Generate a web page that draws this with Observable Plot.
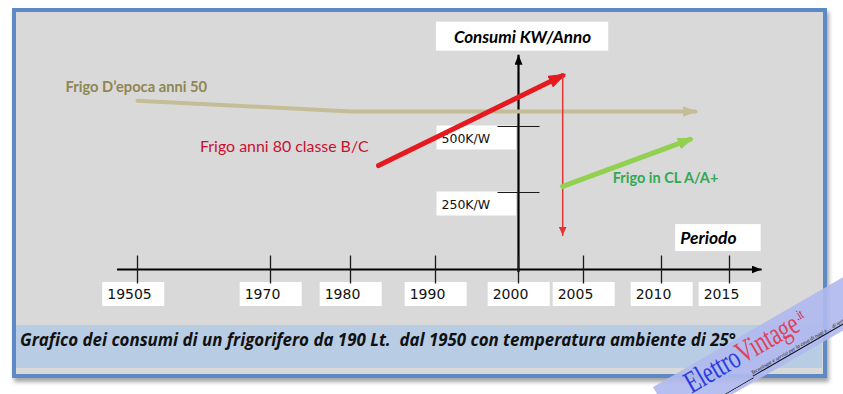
<!DOCTYPE html>
<html>
<head>
<meta charset="utf-8">
<script src="https://cdn.jsdelivr.net/npm/d3@7"></script>
<script src="https://cdn.jsdelivr.net/npm/@observablehq/plot@0.6"></script>
<style>
  body { margin: 0; background: #fff; }
  #wrap { position: relative; width: 843px; height: 394px; overflow: hidden; background: #fff; }
  #frame { position: absolute; left: 12px; top: 8px; width: 815px; height: 370px; box-sizing: border-box;
           border: 4px solid #5d89c4; background: #d9d9d9; box-shadow: 2px 4px 4px rgba(0,0,0,.35); }
  #band { position: absolute; left: 16px; top: 325px; width: 806px; height: 43px; background: #b8cce4; }
  #caption { position: absolute; left: 20px; top: 330px; font: italic bold 16.9px "Open Sans", sans-serif; color: #111; white-space: pre; line-height: 20px; }
  #chart { position: absolute; left: 0; top: 0; }
  #wm { position: absolute; left: 653px; top: 387px; width: 280px; height: 46px; transform-origin: 0 0;
        transform: rotate(-30deg); background: rgba(176,186,238,0.92); z-index: 5; }
  #wm .t { position: absolute; left: 30px; top: -5px; font: 31px "Liberation Serif", serif; white-space: nowrap; line-height: 31px;
           transform: scaleX(0.72); transform-origin: 0 0; letter-spacing: -0.3px; }
  #wm .b { color: #2a3be0; }
  #wm .r { color: #e0405a; }
  #wm .it { color: #c8203a; font-size: 14px; vertical-align: 10px; margin-left: 2px; }
  #wm .s { position: absolute; left: 92px; top: 34px; font: italic 5.3px "Liberation Serif", serif; color: #111;
           text-decoration: underline; white-space: nowrap; }
  #wm .sq { position: absolute; left: 36px; top: 36px; width: 55px; height: 6px; border-bottom: 1px solid #222;
            border-left: 1px solid #222; border-radius: 0 0 0 6px; }
</style>
</head>
<body>
<div id="wrap">
  <div id="frame"></div>
  <div id="band"></div>
  <div id="caption">Grafico dei consumi di un frigorifero da 190 Lt.  dal 1950 con temperatura ambiente di 25°</div>
  <div id="chart"></div>
  <div id="wm"><div class="t"><span class="b">Elettro</span><span class="r">Vintage</span><span class="it">.it</span></div><div class="sq"></div><div class="s">Tecnologie e servizi per la casa di oggi e.... di ieri</div></div>
</div>
<script>
// ---- tick data ----
const xTicks = [1950, 1970, 1980, 1990, 2000, 2005, 2010, 2015];
const xTickLabels = ["19505", "1970", "1980", "1990", "2000", "2005", "2010", "2015"];
const yTicks = [250, 500];
const yTickLabels = ["250K/W", "500K/W"];
const yAxisAt = 2000;
const axisXExtent = [1947, 2017.4];
const axisYExtent = [-10, 770];
const yTitle = "Consumi KW/Anno";
const xTitle = "Periodo";

// ---- series (years / consumption) ----
const seriesNames = ["Frigo D\u2019epoca anni 50", "Frigo anni 80 classe B/C", "Frigo in CL A/A+"];
const epocaYears = [1950, 1980, 2012.5];
const epocaValues = [598, 557, 557];
const anni80Years = [1983.3, 2003.4];
const anni80Values = [352, 693];
const dropYears = [2003.4, 2003.4];
const dropValues = [693, 110];
const classeAYears = [2003.4, 2012.1];
const classeAValues = [273, 451];

const vTick = { draw(ctx, size) { const h = Math.sqrt(size / Math.PI); ctx.moveTo(0, -h); ctx.lineTo(0, h); } };
const hTick = { draw(ctx, size) { const h = Math.sqrt(size / Math.PI); ctx.moveTo(-h, 0); ctx.lineTo(h, 0); } };

const labelFont = "Lato, 'Open Sans', sans-serif";

const chart = Plot.plot({
  width: 843,
  height: 394,
  margin: 0,
  style: { background: "transparent", overflow: "visible" },
  x: { type: "linear", domain: xTicks, range: [137, 270, 350, 435, 518, 583, 661, 729], axis: null },
  y: { type: "linear", domain: [0, 250, 500], range: [269, 192, 126], axis: null },
  marks: [
    Plot.text(yTicks, { x: () => yAxisAt, y: d => d, text: (d, i) => yTickLabels[i], textAnchor: "start",
      dx: -77, dy: 12, fontSize: 12.5, fontFamily: "DejaVu Sans", fill: "#111", ariaDescription: "ylabels" }),
    Plot.text(xTicks, { x: d => d, y: () => 0, text: (d, i) => xTickLabels[i], dx: -8, dy: 25,
      fontSize: 14, fontFamily: "DejaVu Sans", fill: "#111", ariaDescription: "xlabels" }),
    Plot.text([yTitle], { x: () => yAxisAt, y: () => axisYExtent[1], text: d => d, dx: 4, dy: -18,
      fontSize: 17, fontWeight: "bold", fontStyle: "italic", fontFamily: labelFont, fill: "#000", ariaDescription: "ytitle" }),
    Plot.text([xTitle], { x: () => axisXExtent[1], y: () => 0, text: d => d, textAnchor: "start", dx: -82, dy: -31,
      fontSize: 17.5, fontWeight: "bold", fontStyle: "italic", fontFamily: labelFont, fill: "#000", ariaDescription: "xtitle" }),
    Plot.ruleX([yAxisAt], { y1: axisYExtent[0], y2: axisYExtent[1], stroke: "#000", strokeWidth: 2.2, ariaDescription: "yaxis" }),
    Plot.ruleY([0], { x1: axisXExtent[0], x2: axisXExtent[1], stroke: "#000", strokeWidth: 2.2, ariaDescription: "xaxis" }),
    Plot.dot(xTicks, { x: d => d, y: () => 0, r: 14, symbol: vTick, fill: "none", stroke: "#1a1a1a", strokeWidth: 1.3 }),
    Plot.dot(yTicks, { x: () => yAxisAt, y: d => d, r: 21, symbol: hTick, fill: "none", stroke: "#1a1a1a", strokeWidth: 1.2 }),
    Plot.line(epocaYears, { x: d => d, y: (d, i) => epocaValues[i], stroke: "#c4bd97", strokeWidth: 4, ariaDescription: "s-epoca" }),
    Plot.line(anni80Years, { x: d => d, y: (d, i) => anni80Values[i], stroke: "#e5191e", strokeWidth: 5, ariaDescription: "s-anni80" }),
    Plot.line(dropYears, { x: d => d, y: (d, i) => dropValues[i], stroke: "#e23434", strokeWidth: 1.5, ariaDescription: "s-drop" }),
    Plot.line(classeAYears, { x: d => d, y: (d, i) => classeAValues[i], stroke: "#92d050", strokeWidth: 5, ariaDescription: "s-classeA" }),
    Plot.text([seriesNames[0]], { x: () => epocaYears[0], y: () => epocaValues[0], text: d => d, textAnchor: "start",
      dx: -72, dy: -13, fontSize: 14.7, fontWeight: "bold", fontFamily: labelFont, fill: "#8f8652" }),
    Plot.text([seriesNames[1]], { x: () => anni80Years[0], y: () => anni80Values[0], text: d => d, textAnchor: "end",
      dx: -10, dy: -19, fontSize: 15.9, fontFamily: labelFont, fill: "#c8102e" }),
    Plot.text([seriesNames[2]], { x: () => classeAYears[0], y: () => classeAValues[0], text: d => d, textAnchor: "start",
      dx: 50, dy: -8, fontSize: 14.5, fontWeight: "bold", fontFamily: labelFont, fill: "#33a852" })
  ]
});

document.getElementById("chart").appendChild(chart);

// ---- decorations: arrowheads and white label boxes ----
const ns = "http://www.w3.org/2000/svg";
const defs = document.createElementNS(ns, "defs");
chart.insertBefore(defs, chart.firstChild);
function marker(id, color, L, W, back) {
  const m = document.createElementNS(ns, "marker");
  m.setAttribute("id", id);
  m.setAttribute("viewBox", `0 0 ${L} ${W}`);
  m.setAttribute("markerWidth", L);
  m.setAttribute("markerHeight", W);
  m.setAttribute("markerUnits", "userSpaceOnUse");
  m.setAttribute("refX", L - back);
  m.setAttribute("refY", W / 2);
  m.setAttribute("orient", "auto");
  const p = document.createElementNS(ns, "path");
  p.setAttribute("d", `M0,0L${L},${W / 2}L0,${W}Z`);
  p.setAttribute("fill", color);
  m.appendChild(p);
  defs.appendChild(m);
}
marker("m-epoca", "#c4bd97", 15, 11, 2);
marker("m-anni80", "#e5191e", 18, 13, 4);
marker("m-drop", "#e23434", 9, 8, 0);
marker("m-classeA", "#92d050", 16, 12, 4);
marker("m-axis", "#000", 10, 8, 0);
const setMarker = (desc, id) => chart.querySelectorAll(`g[aria-description="${desc}"] path, g[aria-description="${desc}"] line`)
  .forEach(el => el.setAttribute("marker-end", `url(#${id})`));
setMarker("s-epoca", "m-epoca");
setMarker("s-anni80", "m-anni80");
setMarker("s-drop", "m-drop");
setMarker("s-classeA", "m-classeA");
setMarker("xaxis", "m-axis");
// y axis arrow must point upward
chart.querySelectorAll(`g[aria-description="yaxis"] line`).forEach(el => {
  const a = +el.getAttribute("y1"), b = +el.getAttribute("y2");
  if (a < b) { el.setAttribute("y1", b); el.setAttribute("y2", a); }
  el.setAttribute("marker-end", "url(#m-axis)");
});

const boxes = document.createElementNS(ns, "g");
chart.insertBefore(boxes, chart.querySelector("g"));
const svgRect = chart.getBoundingClientRect();
const xAxisPx = chart.scale("x").apply(yAxisAt);
function addBoxes(desc, pad) {
  chart.querySelectorAll(`g[aria-description="${desc}"] text`).forEach(t => {
    const r = t.getBoundingClientRect();
    const left = r.left - svgRect.left - pad.l;
    const top = r.top - svgRect.top - pad.t;
    let right = r.right - svgRect.left + pad.r;
    if (pad.minW) right = Math.max(right, left + pad.minW);
    if (pad.toAxis) right = xAxisPx - 2;
    const rect = document.createElementNS(ns, "rect");
    rect.setAttribute("x", left);
    rect.setAttribute("y", top);
    rect.setAttribute("width", right - left);
    rect.setAttribute("height", r.height + pad.t + pad.b);
    rect.setAttribute("fill", "#fff");
    boxes.appendChild(rect);
  });
}
addBoxes("xlabels", { l: 5, r: 5, t: 4, b: 4, minW: 62 });
addBoxes("ylabels", { l: 5, r: 0, t: 5, b: 4, toAxis: true });
addBoxes("ytitle", { l: 18, r: 17, t: 4, b: 4 });
addBoxes("xtitle", { l: 5, r: 24, t: 3, b: 3 });
</script>
</body>
</html>
